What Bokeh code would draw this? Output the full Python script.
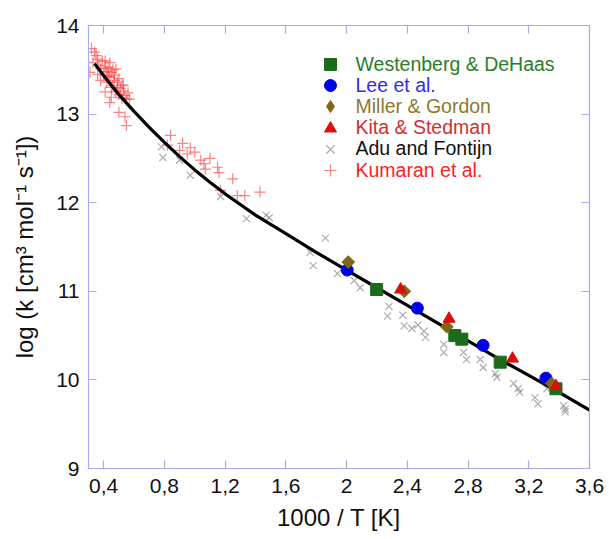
import math
from bokeh.plotting import figure
from bokeh.models import Range1d, FixedTicker, LinearAxis, Legend, LegendItem
from bokeh.embed import file_html
from bokeh.resources import INLINE

# ---------------- data ----------------
x_ticks = [0.4, 0.8, 1.2, 1.6, 2.0, 2.4, 2.8, 3.2, 3.6]
x_tick_labels = ["0,4", "0,8", "1,2", "1,6", "2", "2,4", "2,8", "3,2", "3,6"]
y_ticks = [9, 10, 11, 12, 13, 14]

curve_x = [0.34, 0.42, 0.50, 0.60, 0.70, 0.80, 0.90, 1.00, 1.10, 1.20, 1.30, 1.40,
           1.60, 1.80, 2.00, 2.20, 2.40, 2.60, 2.80, 3.00, 3.20, 3.40, 3.60]
curve_y = [13.57, 13.39, 13.22, 13.03, 12.85, 12.68, 12.52, 12.37, 12.23, 12.10, 11.98, 11.86,
           11.65, 11.44, 11.24, 11.04, 10.84, 10.64, 10.44, 10.24, 10.05, 9.86, 9.66]

west_x = [2.198, 2.713, 2.759, 3.012, 3.379]
west_y = [11.02, 10.50, 10.46, 10.20, 9.90]

lee_x = [2.004, 2.466, 2.899, 3.313]
lee_y = [11.24, 10.81, 10.39, 10.02]

miller_x = [2.011, 2.380, 2.660, 3.350]
miller_y = [11.33, 11.00, 10.60, 9.96]

kita_x = [2.356, 2.675, 3.093, 3.379]
kita_y = [11.02, 10.69, 10.24, 9.93]

adu_x = [0.78, 0.79, 0.90, 0.97, 1.17, 1.34, 1.47, 1.49, 1.76, 1.78, 1.86, 1.94,
         2.05, 2.09, 2.28, 2.27, 2.37, 2.38, 2.43, 2.47, 2.51, 2.52, 2.64, 2.64,
         2.77, 2.79, 2.88, 2.90, 2.98, 2.99, 3.10, 3.13, 3.14, 3.24, 3.26, 3.32,
         3.43, 3.44, 3.44]
adu_y = [12.63, 12.51, 12.48, 12.31, 12.07, 11.82, 11.86, 11.83, 11.44, 11.29, 11.60, 11.20,
         11.12, 11.04, 10.83, 10.72, 10.73, 10.61, 10.58, 10.62, 10.55, 10.48, 10.40, 10.31,
         10.31, 10.23, 10.23, 10.14, 10.07, 10.03, 9.96, 9.90, 9.86, 9.80, 9.73, 9.90,
         9.71, 9.64, 9.67]

kum_x = [0.32, 0.34, 0.35, 0.31, 0.33, 0.36, 0.37, 0.38, 0.39, 0.40, 0.41, 0.41,
         0.42, 0.42, 0.43, 0.43, 0.44, 0.44, 0.44, 0.45, 0.45, 0.45, 0.46, 0.46,
         0.47, 0.47, 0.48, 0.48, 0.49, 0.49, 0.50, 0.50, 0.50, 0.51, 0.52, 0.52,
         0.53, 0.53, 0.54, 0.54, 0.55, 0.55, 0.56, 0.57, 0.41, 0.38, 0.36,
         0.82, 0.84, 0.92, 0.95, 0.97, 1.00, 1.04, 1.07, 1.10, 1.15, 1.16, 1.17,
         1.25, 1.28, 1.33, 1.43, 0.90, 1.06]
kum_y = [13.74, 13.70, 13.66, 13.47, 13.58, 13.62, 13.55, 13.51, 13.60, 13.44, 13.60, 13.52,
         13.36, 13.48, 13.53, 13.42, 13.58, 13.42, 13.13, 13.47, 13.19, 13.30, 13.32, 13.50,
         13.44, 13.38, 13.51, 13.25, 13.36, 13.30, 13.40, 13.02, 13.22, 13.29, 13.33, 13.18,
         13.32, 13.26, 13.21, 12.97, 13.17, 12.87, 13.24, 13.17, 13.25, 13.38, 13.45,
         12.65, 12.76, 12.67, 12.55, 12.62, 12.57, 12.48, 12.38, 12.50, 12.40, 12.34, 12.14,
         12.27, 12.08, 12.08, 12.12, 12.59, 12.44]

legend_labels = ["Westenberg & DeHaas", "Lee et al.", "Miller & Gordon",
                 "Kita & Stedman", "Adu and Fontijn", "Kumaran et al."]

# ---------------- styles ----------------
FONT = "Liberation Sans"
LAV = "#a9a9f2"
C_WEST = "#1b6b1b"
C_LEE = "#0000e6"
C_MIL = "#7d6914"
C_KITA = "#d81010"
C_ADU = "#8a8a8a"
C_KUM = "#ff3030"
legend_text_colors = ["#2a7d2a", "#3030e0", "#8c7a2c", "#d03030", "#111111", "#ff2020"]

p = figure(width=609, height=539, x_range=Range1d(0.3, 3.6), y_range=Range1d(9, 14),
           output_backend="svg", toolbar_location=None,
           min_border_left=88, min_border_right=20, min_border_top=25, min_border_bottom=71)
p.grid.visible = False
p.outline_line_color = LAV
p.outline_line_width = 1.2
p.background_fill_color = "white"
p.border_fill_color = "white"

def style_axis(ax):
    ax.axis_line_color = LAV
    ax.major_tick_line_color = LAV
    ax.major_tick_line_width = 1.2
    ax.major_tick_in = 8
    ax.major_tick_out = 0
    ax.minor_tick_line_color = None
    ax.major_label_text_font = FONT
    ax.major_label_text_font_size = "21px"
    ax.major_label_text_color = "#111111"
    ax.axis_label_text_font = FONT
    ax.axis_label_text_font_size = "24px"
    ax.axis_label_text_font_style = "normal"
    ax.axis_label_text_color = "#111111"

xax = p.xaxis[0]
xax.ticker = FixedTicker(ticks=x_ticks)
xax.major_label_overrides = {t: l for t, l in zip(x_ticks, x_tick_labels)}
xax.axis_label = "1000 / T [K]"
style_axis(xax)
xax.major_label_standoff = 10
xax.axis_label_standoff = 8

yax = p.yaxis[0]
yax.ticker = FixedTicker(ticks=y_ticks)
yax.axis_label = "log (k [cm³ mol⁻¹ s⁻¹])"
style_axis(yax)
yax.major_label_standoff = 9
yax.axis_label_standoff = 15

top = LinearAxis(ticker=FixedTicker(ticks=x_ticks),
                 major_label_overrides={t: "" for t in x_ticks})
style_axis(top)
top.major_label_standoff = 0
p.add_layout(top, "above")

right = LinearAxis(ticker=FixedTicker(ticks=y_ticks),
                   major_label_overrides={t: "" for t in y_ticks})
style_axis(right)
right.major_label_standoff = 0
p.add_layout(right, "right")

# ---------------- glyphs ----------------
r_adu = p.scatter(adu_x, adu_y, marker="x", size=10, line_color=C_ADU, line_alpha=0.7, line_width=1.2)
r_kum = p.scatter(kum_x, kum_y, marker="cross", size=11, line_color=C_KUM, line_alpha=0.6, line_width=1.2)
p.line(curve_x, curve_y, line_color="black", line_width=3.2)
r_west = p.scatter(west_x, west_y, marker="square", size=12, fill_color=C_WEST, line_color=C_WEST)
r_lee = p.scatter(lee_x, lee_y, marker="circle", size=12, fill_color=C_LEE, line_color=C_LEE)
# diamond glyph used for the legend swatch (legend glyphs ignore marker angle);
# it sits fully underneath the rotated squares drawn next
r_mil_leg = p.scatter(miller_x, miller_y, marker="diamond", size=8, fill_color=C_MIL, line_color=C_MIL)
r_mil = p.scatter(miller_x, miller_y, marker="square", angle=math.pi / 4, size=9,
                  fill_color=C_MIL, line_color=C_MIL)
r_kita = p.scatter(kita_x, kita_y, marker="triangle", size=12, fill_color=C_KITA, line_color=C_KITA)

renderers = [r_west, r_lee, r_mil_leg, r_kita, r_adu, r_kum]
for i, (lab, r, col) in enumerate(zip(legend_labels, renderers, legend_text_colors)):
    leg = Legend(items=[LegendItem(label=lab, renderers=[r])],
                 location=(226.5, 389 - 21.2 * i),
                 label_text_font=FONT, label_text_font_size="19.5px",
                 label_text_color=col, background_fill_alpha=0,
                 border_line_color=None, padding=0, margin=0, spacing=0,
                 glyph_width=30, glyph_height=30, label_height=30,
                 label_standoff=11)
    p.add_layout(leg)

open("out.html", "w").write(file_html(p, INLINE))
